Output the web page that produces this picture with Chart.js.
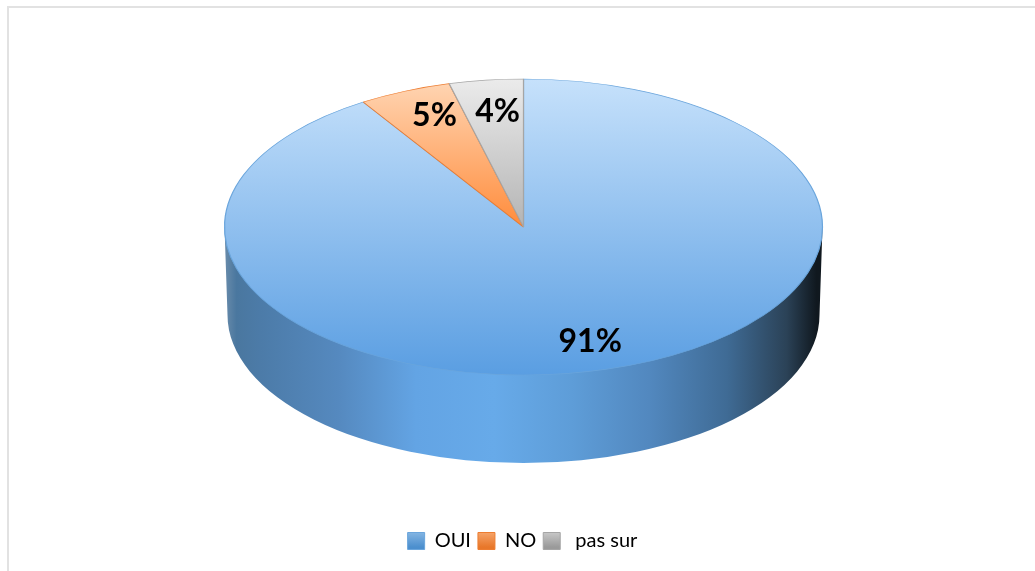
<!DOCTYPE html>
<html>
<head>
<meta charset="utf-8">
<style>
  html, body { margin: 0; background: #fff; overflow: hidden; }
  #frame { position: absolute; left: 7px; top: 6px; width: 1028px; height: 565px;
           border-left: 2px solid #e2e2e2; border-top: 2px solid #e2e2e2; }
  #wrap { position: absolute; left: 0; top: 0; width: 1035px; height: 571px; }
</style>
</head>
<body>
<div id="frame"></div>
<div id="wrap"><canvas id="pieChart"></canvas></div>
<script src="https://cdn.jsdelivr.net/npm/chart.js@4/dist/chart.umd.min.js"></script>
<script>
const categories = ['OUI', 'NO', ' pas sur'];
const percentages = [91, 5, 4];

const edgeColors = ['#6aa5dc', '#ed7d31', '#a5a5a5'];
const topShades = [['#c6e1fb', '#5a9ee2'], ['#ffd6b5', '#ff8c3c'], ['#ebebeb', '#b4b4b4']];
const boxShades = [['#8dbbe6', '#4c8fce'], ['#f8ab74', '#e8772a'], ['#cfcfcf', '#9a9a9a']];

// ellipse of the disc on the page
const discX = 523.5, discY = 227, discRx = 299, discRy = 148;
const wallDepth = 88, wallInset = 3;

// small nudges so the two narrow labels sit clear of their slice edges
const labelNudges = [[0, 1], [6, -3], [4, 2]];

const fontFamily = 'Lato, "Open Sans", sans-serif';

function shade(ctx, y0, y1, stops) {
  const g = ctx.createLinearGradient(0, y0, 0, y1);
  g.addColorStop(0, stops[0]);
  g.addColorStop(1, stops[1]);
  return g;
}

function sliceFill(c) {
  const area = c.chart.chartArea;
  if (!area) return edgeColors[c.dataIndex];
  const mid = (area.top + area.bottom) / 2;
  // the big slice shades across the whole disc, the narrow ones only down to the hub
  const end = c.dataIndex === 0 ? mid + discRy : mid;
  return shade(c.chart.ctx, mid - discRy, end, topShades[c.dataIndex]);
}

const discPlugin = {
  id: 'disc',
  beforeDatasetsDraw(chart) {
    const ctx = chart.ctx;
    const arc = chart.getDatasetMeta(0).data[0];
    const rx = discRx - wallInset, bottomY = discY + wallDepth;

    // side wall, lit left of the middle and falling into shadow on the right
    const wall = ctx.createLinearGradient(discX - discRx, 0, discX + discRx, 0);
    wall.addColorStop(0, '#6a8cab');
    wall.addColorStop(0.02, '#4a779f');
    wall.addColorStop(0.06, '#4c7ba8');
    wall.addColorStop(0.19, '#5589bf');
    wall.addColorStop(0.32, '#63a4e4');
    wall.addColorStop(0.45, '#67aae9');
    wall.addColorStop(0.58, '#5e9dd8');
    wall.addColorStop(0.71, '#5288bf');
    wall.addColorStop(0.84, '#3f6b95');
    wall.addColorStop(0.94, '#2b4257');
    wall.addColorStop(0.99, '#10181f');
    ctx.save();
    ctx.beginPath();
    ctx.moveTo(discX - discRx, discY);
    ctx.lineTo(discX - rx, bottomY);
    ctx.ellipse(discX, bottomY, rx, discRy, 0, Math.PI, 0, true);
    ctx.lineTo(discX + discRx, discY);
    ctx.closePath();
    ctx.fillStyle = wall;
    ctx.fill();
    ctx.restore();

    // flatten the pie: the controller draws a circle, the page shows an ellipse
    ctx.save();
    ctx.translate(discX, discY);
    ctx.scale(discRx / arc.outerRadius, discRy / arc.outerRadius);
    ctx.translate(-arc.x, -arc.y);
  },
  afterDatasetsDraw(chart) {
    const ctx = chart.ctx;
    ctx.restore();

    const total = percentages.reduce((a, b) => a + b, 0);
    ctx.save();
    ctx.font = 'bold 32px ' + fontFamily;
    ctx.fillStyle = '#000';
    ctx.textAlign = 'center';
    ctx.textBaseline = 'middle';
    chart.getDatasetMeta(0).data.forEach((el, i) => {
      const a = (el.startAngle + el.endAngle) / 2;
      const x = discX + Math.cos(a) * discRx * 0.8 + labelNudges[i][0];
      const y = discY + Math.sin(a) * discRy * 0.8 + labelNudges[i][1];
      ctx.fillText(Math.round(percentages[i] / total * 100) + '%', x, y);
    });
    ctx.restore();
  }
};

new Chart(document.getElementById('pieChart'), {
  type: 'pie',
  data: {
    labels: categories,
    datasets: [{
      data: percentages,
      backgroundColor: sliceFill,
      borderColor: edgeColors,
      borderWidth: 0.6
    }]
  },
  options: {
    responsive: true,
    maintainAspectRatio: false,
    animation: false,
    radius: 148,
    layout: { padding: { left: 10, bottom: 10 } },
    plugins: {
      tooltip: { enabled: false },
      legend: {
        position: 'bottom',
        labels: {
          boxWidth: 17,
          boxHeight: 17,
          padding: 7,
          color: '#111',
          font: { family: fontFamily, size: 20 },
          generateLabels(chart) {
            const boxTop = chart.height - 41;
            return categories.map((text, i) => ({
              text,
              index: i,
              fillStyle: shade(chart.ctx, boxTop, boxTop + 17, boxShades[i]),
              strokeStyle: edgeColors[i],
              lineWidth: 1
            }));
          }
        }
      }
    }
  },
  plugins: [discPlugin]
});
</script>
</body>
</html>
